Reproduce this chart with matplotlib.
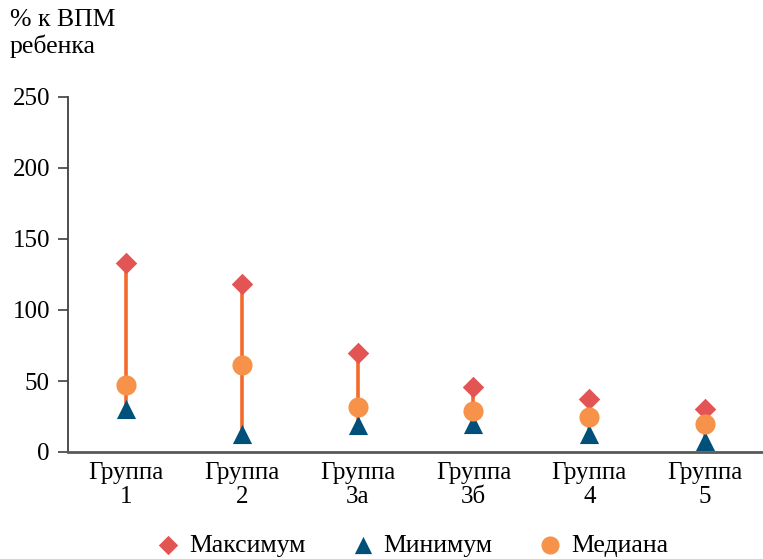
import matplotlib.pyplot as plt
import numpy as np

plt.rcParams['font.family'] = ['Liberation Serif', 'DejaVu Serif']

groups = ["Группа\n1", "Группа\n2", "Группа\n3а", "Группа\n3б", "Группа\n4", "Группа\n5"]
maximum = [133, 118, 70, 46, 37, 30]
minimum = [30, 13, 19, 20, 13, 8]
median = [47, 61, 32, 29, 25, 20]

c_max = "#E35555"
c_min = "#00507A"
c_med = "#F7924A"
c_line = "#F26B2B"

fig = plt.figure(figsize=(7.63, 5.59), dpi=100)
ax = fig.add_axes([68 / 763, 1 - 452 / 559, 695 / 763, 355 / 559])

x = np.arange(len(groups))
ax.vlines(x, minimum, maximum, color=c_line, linewidth=2.6, zorder=1)
ax.scatter(x, maximum, marker="D", s=120, color=c_max, zorder=3, label="Максимум", linewidths=0)
ax.scatter(x, minimum, marker="^", s=190, color=c_min, zorder=2, label="Минимум", linewidths=0)
ax.scatter(x, median, marker="o", s=210, color=c_med, zorder=4, label="Медиана", linewidths=0)

ax.set_xlim(-0.5, len(groups) - 0.5)
ax.set_ylim(0, 250)
ax.set_yticks(range(0, 251, 50))
ax.set_xticks(x)
ax.set_xticklabels(groups, linespacing=1.15)
ax.tick_params(axis="x", length=0, pad=7, labelsize=18)
ax.tick_params(axis="y", length=7, width=1.2, color="#404040", pad=6, labelsize=18)
for s in ["top", "right"]:
    ax.spines[s].set_visible(False)
ax.spines["left"].set_color("#404040")
ax.spines["left"].set_linewidth(1.3)
ax.spines["bottom"].set_color("#595959")
ax.spines["bottom"].set_linewidth(2)

fig.text(10, 559 - 9, "% к ВПМ\nребенка", fontsize=18.5, ha="left", va="top",
         transform=None, linespacing=1.2)

fig.legend(loc="lower center", bbox_to_anchor=(0.538, -0.038), ncol=3, frameon=False,
           fontsize=18.5, handletextpad=0.2, columnspacing=1.65, markerscale=0.9,
           handlelength=1.2)

fig.savefig("out.png", dpi=100)
